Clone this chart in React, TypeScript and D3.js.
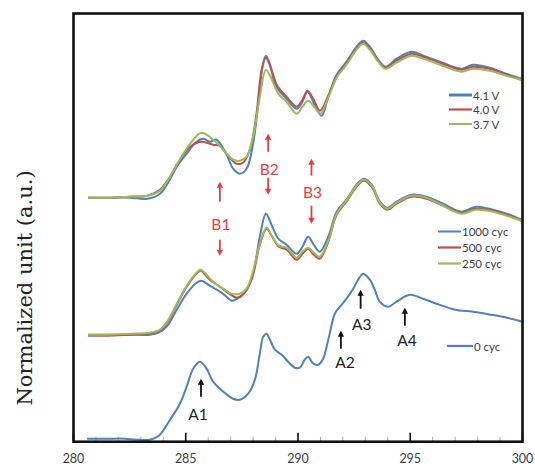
import React from "react";
import * as d3 from "d3";

type Pt = [number, number];

// Photon energy axis (eV)
const majorTicks = [280, 285, 290, 295, 300];
const minorTicks = [281, 282, 283, 284, 286, 287, 288, 289, 291, 292, 293, 294, 296, 297, 298, 299];

// Charged states (offset spectra, normalized units)
const v41: Pt[] = [[280.65,2.44],[281.5,2.44],[282.5,2.44],[283.3,2.43],[283.85,2.48],[284.29,2.62],[284.6,2.75],[285.04,2.88],[285.48,3.0],[285.78,3.03],[286.07,3.0],[286.37,3.02],[286.82,2.87],[287.11,2.73],[287.41,2.68],[287.71,2.73],[288.0,2.98],[288.23,3.38],[288.42,3.75],[288.57,3.86],[288.74,3.78],[288.97,3.58],[289.19,3.5],[289.49,3.43],[289.94,3.33],[290.2,3.4],[290.42,3.5],[290.72,3.38],[291.05,3.26],[291.35,3.45],[291.72,3.67],[292.16,3.8],[292.61,3.95],[292.9,4.01],[293.2,3.95],[293.57,3.82],[293.9,3.75],[294.39,3.83],[295.06,3.9],[295.58,3.86],[296.32,3.8],[297.28,3.73],[297.8,3.77],[298.54,3.74],[299.28,3.68],[299.95,3.63]];
const v40: Pt[] = [[280.65,2.44],[281.5,2.44],[282.5,2.45],[283.3,2.46],[283.85,2.52],[284.3,2.65],[284.6,2.77],[285.2,2.95],[285.7,3.0],[286.22,2.97],[286.5,2.96],[287.0,2.83],[287.27,2.78],[287.55,2.79],[287.86,2.92],[288.15,3.28],[288.38,3.72],[288.57,3.84],[288.82,3.72],[289.05,3.57],[289.49,3.45],[289.94,3.35],[290.2,3.42],[290.42,3.51],[290.7,3.42],[290.98,3.31],[291.35,3.46],[291.72,3.65],[292.16,3.78],[292.61,3.93],[292.9,3.99],[293.2,3.93],[293.57,3.81],[293.9,3.74],[294.39,3.81],[295.06,3.88],[295.58,3.85],[296.32,3.79],[297.28,3.72],[297.8,3.75],[298.54,3.73],[299.28,3.67],[299.95,3.62]];
const v37: Pt[] = [[280.65,2.44],[281.5,2.44],[282.5,2.45],[283.3,2.46],[283.85,2.51],[284.3,2.65],[284.6,2.77],[285.2,2.98],[285.7,3.09],[286.22,3.02],[286.67,2.92],[287.11,2.82],[287.41,2.81],[287.71,2.85],[288.0,3.05],[288.3,3.45],[288.57,3.72],[288.82,3.63],[289.12,3.48],[289.49,3.4],[289.94,3.28],[290.2,3.35],[290.45,3.41],[290.72,3.35],[291.0,3.28],[291.35,3.44],[291.72,3.64],[292.16,3.77],[292.61,3.92],[292.9,3.98],[293.2,3.92],[293.57,3.8],[293.9,3.73],[294.39,3.79],[295.06,3.86],[295.58,3.83],[296.32,3.77],[297.28,3.7],[297.8,3.73],[298.54,3.71],[299.28,3.66],[299.95,3.62]];

// Cycled electrodes
const cyc1000: Pt[] = [[280.65,1.07],[281.5,1.07],[282.5,1.07],[283.4,1.07],[283.8,1.09],[284.15,1.15],[284.6,1.32],[285.04,1.48],[285.48,1.59],[285.7,1.61],[286.07,1.56],[286.52,1.5],[286.82,1.45],[287.04,1.41],[287.3,1.43],[287.71,1.52],[288.0,1.68],[288.3,2.05],[288.57,2.28],[288.82,2.17],[289.12,2.03],[289.49,1.97],[289.94,1.88],[290.2,1.95],[290.45,2.05],[290.7,1.97],[290.97,1.9],[291.35,2.05],[291.72,2.3],[292.16,2.42],[292.61,2.57],[292.94,2.63],[293.28,2.57],[293.65,2.4],[293.97,2.34],[294.39,2.4],[295.06,2.47],[295.72,2.45],[296.46,2.38],[297.28,2.3],[297.94,2.35],[298.68,2.32],[299.43,2.27],[299.95,2.22]];
const cyc500: Pt[] = [[280.65,1.06],[281.5,1.06],[282.5,1.07],[283.4,1.08],[283.85,1.11],[284.2,1.2],[284.6,1.37],[285.04,1.55],[285.48,1.68],[285.66,1.71],[286.07,1.62],[286.52,1.55],[287.0,1.47],[287.27,1.44],[287.55,1.47],[287.93,1.62],[288.3,1.97],[288.6,2.13],[288.85,2.05],[289.15,1.95],[289.49,1.92],[289.94,1.82],[290.2,1.88],[290.45,1.93],[290.7,1.87],[290.97,1.83],[291.35,2.0],[291.72,2.27],[292.16,2.4],[292.61,2.55],[292.94,2.61],[293.28,2.55],[293.65,2.38],[293.97,2.32],[294.39,2.38],[295.06,2.45],[295.72,2.43],[296.46,2.36],[297.28,2.29],[297.94,2.33],[298.68,2.31],[299.43,2.26],[299.95,2.21]];
const cyc250: Pt[] = [[280.65,1.07],[281.5,1.07],[282.5,1.08],[283.4,1.09],[283.85,1.12],[284.2,1.21],[284.6,1.38],[285.04,1.56],[285.48,1.69],[285.66,1.72],[286.22,1.6],[286.67,1.53],[287.04,1.48],[287.41,1.48],[287.71,1.53],[288.0,1.71],[288.3,1.98],[288.6,2.14],[288.85,2.05],[289.15,1.96],[289.49,1.94],[289.94,1.84],[290.2,1.9],[290.45,1.94],[290.7,1.89],[290.97,1.85],[291.35,2.01],[291.72,2.28],[292.16,2.41],[292.61,2.56],[292.94,2.62],[293.28,2.56],[293.65,2.39],[293.97,2.33],[294.39,2.39],[295.06,2.46],[295.72,2.44],[296.46,2.36],[297.28,2.28],[297.94,2.32],[298.68,2.3],[299.43,2.25],[299.95,2.21]];

// Pristine electrode
const cyc0: Pt[] = [[280.6,0.03],[281.5,0.03],[282.3,0.03],[282.8,0.02],[283.4,0.02],[283.8,0.06],[284.3,0.22],[284.74,0.38],[285.04,0.55],[285.33,0.73],[285.63,0.8],[285.93,0.73],[286.22,0.6],[286.67,0.5],[287.11,0.43],[287.41,0.42],[287.78,0.48],[288.08,0.62],[288.3,0.88],[288.45,1.05],[288.6,1.08],[288.75,1.02],[288.97,0.92],[289.27,0.87],[289.56,0.8],[289.86,0.74],[290.08,0.74],[290.3,0.82],[290.45,0.85],[290.68,0.78],[290.9,0.77],[291.12,0.83],[291.35,1.02],[291.64,1.28],[291.87,1.35],[292.16,1.43],[292.46,1.53],[292.68,1.62],[292.9,1.68],[293.2,1.62],[293.42,1.52],[293.64,1.4],[294.01,1.35],[294.39,1.4],[294.98,1.47],[295.57,1.43],[296.17,1.38],[297.0,1.32],[297.8,1.3],[298.6,1.27],[299.3,1.24],[300.0,1.2]];

const voltageLabels = ["4.1 V", "4.0 V", "3.7 V"];
const cycleLabels = ["1000 cyc", "500 cyc", "250 cyc"];
const pristineLabels = ["0 cyc"];

// Peak annotations: energy, arrow tip / tail, label position (normalized units)
const bMarks = [
  { name: "B1", e: 286.52, upTip: 2.6, upTail: 2.4, label: 2.18, downTail: 2.02, downTip: 1.86 },
  { name: "B2", e: 288.67, upTip: 3.08, upTail: 2.9, label: 2.73, downTail: 2.64, downTip: 2.47 },
  { name: "B3", e: 290.6, upTip: 2.83, upTail: 2.66, label: 2.5, downTail: 2.36, downTip: 2.18 },
];
const aMarks = [
  { name: "A1", e: 285.68, tip: 0.63, tail: 0.45, labelE: 285.55, label: 0.28 },
  { name: "A2", e: 291.91, tip: 1.11, tail: 0.93, labelE: 292.09, label: 0.8 },
  { name: "A3", e: 292.79, tip: 1.52, tail: 1.33, labelE: 292.84, label: 1.18 },
  { name: "A4", e: 294.76, tip: 1.34, tail: 1.16, labelE: 294.86, label: 1.02 },
];

const W = 535;
const H = 466;
const plot = { left: 73.5, right: 522.5, top: 13.5, bottom: 441.7 };
const BLUE = "#4f81bd";
const RED = "#c0504d";
const GREEN = "#9bbb59";
const ANNOT_RED = "#ec3a3f";
const sans = "Lato, 'Open Sans', sans-serif";

const x = d3.scaleLinear().domain([280, 300]).range([plot.left, plot.right]);
const y = d3.scaleLinear().domain([0, 4.282]).range([plot.bottom, plot.top]);
const line = d3
  .line<Pt>()
  .x((d) => x(d[0]))
  .y((d) => y(d[1]))
  .curve(d3.curveCatmullRom.alpha(0.5));

function Arrow({ x0, yTail, yTip, color }: { x0: number; yTail: number; yTip: number; color: string }) {
  const dir = yTip < yTail ? -1 : 1;
  const head = 6;
  return (
    <g>
      <line x1={x0} x2={x0} y1={yTail} y2={yTip - dir * head * 0.8} stroke={color} strokeWidth={1.8} />
      <path
        d={`M${x0},${yTip} L${x0 - 3.2},${yTip - dir * head} L${x0 + 3.2},${yTip - dir * head} Z`}
        fill={color}
      />
    </g>
  );
}

function Legend({ labels, colors, x0, x1, y0, dy, widths }: { labels: string[]; colors: string[]; x0: number; x1: number; y0: number; dy: number; widths: number[] }) {
  return (
    <g>
      {labels.map((t, i) => (
        <g key={t}>
          <line x1={x0} x2={x1} y1={y0 + i * dy} y2={y0 + i * dy} stroke={colors[i]} strokeWidth={widths[i]} />
          <text x={x1 + 1} y={y0 + i * dy} dominantBaseline="central" fontFamily={sans} fontSize={11.5} fill="#404040">
            {t}
          </text>
        </g>
      ))}
    </g>
  );
}

export default function App() {
  const groups: { data: Pt[]; color: string }[] = [
    { data: cyc0, color: BLUE },
    { data: cyc1000, color: BLUE },
    { data: cyc500, color: RED },
    { data: cyc250, color: GREEN },
    { data: v41, color: BLUE },
    { data: v40, color: RED },
    { data: v37, color: GREEN },
  ];
  return (
    <svg width={W} height={H} style={{ position: "absolute", left: 0, top: 0, background: "#fff" }}>
      {/* minor and major ticks along the energy axis */}
      {minorTicks.map((t) => (
        <line key={"m" + t} x1={x(t)} x2={x(t)} y1={plot.bottom} y2={plot.bottom - 5} stroke="#9fb3cf" strokeWidth={1} />
      ))}
      {majorTicks.map((t) => (
        <line key={"M" + t} x1={x(t)} x2={x(t)} y1={plot.bottom} y2={plot.bottom - 9} stroke="#111" strokeWidth={1.6} />
      ))}

      {/* spectra */}
      {groups.map((g, i) => (
        <path key={i} d={line(g.data) ?? ""} fill="none" stroke={g.color} strokeWidth={2} strokeLinejoin="round" />
      ))}

      {/* frame */}
      <rect
        x={plot.left}
        y={plot.top}
        width={plot.right - plot.left}
        height={plot.bottom - plot.top}
        fill="none"
        stroke="#111"
        strokeWidth={2.6}
      />

      {/* tick labels */}
      {majorTicks.map((t) => (
        <text key={"l" + t} x={x(t)} y={458.5} textAnchor="middle" dominantBaseline="central" fontFamily={sans} fontSize={12.5} fill="#404040">
          {t}
        </text>
      ))}

      {/* axis title */}
      <text
        transform={`translate(25,${288}) rotate(-90)`}
        textAnchor="middle"
        dominantBaseline="central"
        fontFamily="'DejaVu Serif', serif"
        fontSize={21}
        fill="#222"
      >
        Normalized unit (a.u.)
      </text>

      {/* B features */}
      {bMarks.map((m) => (
        <g key={m.name}>
          <Arrow x0={x(m.e)} yTail={y(m.upTail)} yTip={y(m.upTip)} color={ANNOT_RED} />
          <text x={x(m.e) + 1} y={y(m.label)} textAnchor="middle" dominantBaseline="central" fontFamily={sans} fontSize={15.5} fill={ANNOT_RED}>
            {m.name}
          </text>
          <Arrow x0={x(m.e)} yTail={y(m.downTail)} yTip={y(m.downTip)} color={ANNOT_RED} />
        </g>
      ))}

      {/* A features */}
      {aMarks.map((m) => (
        <g key={m.name}>
          <Arrow x0={x(m.e)} yTail={y(m.tail)} yTip={y(m.tip)} color="#111" />
          <text x={x(m.labelE)} y={y(m.label)} textAnchor="middle" dominantBaseline="central" fontFamily={sans} fontSize={15.5} fill="#222">
            {m.name}
          </text>
        </g>
      ))}

      {/* legends */}
      <Legend labels={voltageLabels} colors={[BLUE, RED, GREEN]} x0={449} x1={472} y0={95} dy={14.5} widths={[3, 2.2, 2]} />
      <Legend labels={cycleLabels} colors={[BLUE, RED, GREEN]} x0={438} x1={461} y0={231.5} dy={16} widths={[2, 2.2, 2.2]} />
      <Legend labels={pristineLabels} colors={[BLUE]} x0={447} x1={473} y0={346} dy={16} widths={[2.2]} />
    </svg>
  );
}
